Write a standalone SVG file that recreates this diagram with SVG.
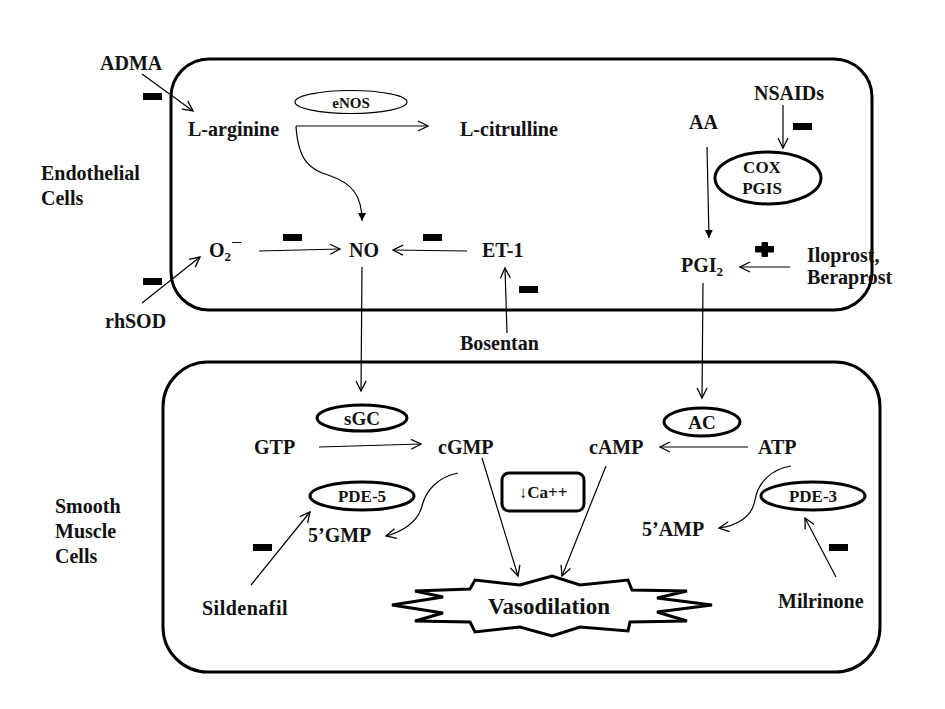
<svg xmlns="http://www.w3.org/2000/svg" width="945" height="709" viewBox="0 0 945 709" font-family="Liberation Serif, Times New Roman, serif" font-weight="bold">
<defs>
<style>
text{fill:#111;}
.t{font-size:20px;}
.s{font-size:17px;}
.m{text-anchor:middle;}
.cell{fill:none;stroke:#000;stroke-width:3;}
.enz{fill:#fff;stroke:#000;stroke-width:3;}
.c{fill:none;stroke:#000;stroke-width:1.2;}
.minus{fill:#000;}
</style>
<marker id="open" markerUnits="userSpaceOnUse" markerWidth="14" markerHeight="14" refX="11" refY="6" orient="auto">
<path d="M1,1 L11,6 L1,11" fill="none" stroke="#000" stroke-width="1.3"/>
</marker>
<marker id="fill" markerUnits="userSpaceOnUse" markerWidth="10" markerHeight="10" refX="8" refY="4" orient="auto">
<path d="M0,0 L8,4 L0,8 Z" fill="#000"/>
</marker>
</defs>
<rect width="945" height="709" fill="#fff"/>

<g id="endothelial-cell">
<rect class="cell" x="171" y="59" width="701" height="251" rx="38"/>
<text class="t" x="41" y="180">Endothelial</text>
<text class="t" x="41" y="205">Cells</text>
</g>
<g id="smooth-muscle-cell">
<rect class="cell" x="163" y="362" width="717" height="310" rx="45"/>
<text class="t" x="55" y="513">Smooth</text>
<text class="t" x="55" y="538">Muscle</text>
<text class="t" x="55" y="563">Cells</text>
</g>

<g id="connectors">
<line class="c" x1="142" y1="74" x2="193" y2="111" marker-end="url(#open)"/>
<line class="c" x1="296" y1="126" x2="428" y2="126" marker-end="url(#open)"/>
<path class="c" d="M296,126 C298,160 310,170 328,175 C352,183 362,195 362,221" marker-end="url(#fill)"/>
<line class="c" x1="259" y1="251" x2="340" y2="249" marker-end="url(#open)"/>
<line class="c" x1="467" y1="251" x2="393" y2="250" marker-end="url(#open)"/>
<line class="c" x1="507" y1="333" x2="505" y2="268" marker-end="url(#open)"/>
<line class="c" x1="142" y1="303" x2="200" y2="257" marker-end="url(#open)"/>
<line class="c" x1="783" y1="105" x2="783" y2="148" marker-end="url(#open)"/>
<line class="c" x1="707" y1="147" x2="709" y2="238" marker-end="url(#fill)"/>
<line class="c" x1="790" y1="267" x2="740" y2="267" marker-end="url(#open)"/>
<line class="c" x1="362" y1="267" x2="361" y2="391" marker-end="url(#open)"/>
<line class="c" x1="703" y1="283" x2="702" y2="398" marker-end="url(#open)"/>
<line class="c" x1="319" y1="447" x2="421" y2="444" marker-end="url(#open)"/>
<line class="c" x1="482" y1="458" x2="518" y2="576" marker-end="url(#open)"/>
<path class="c" d="M458,473 C438,477 426,490 422,506 C418,522 402,532 386,536" marker-end="url(#open)"/>
<line class="c" x1="251" y1="585" x2="310" y2="512" marker-end="url(#open)"/>
<line class="c" x1="606" y1="466" x2="562" y2="576" marker-end="url(#open)"/>
<line class="c" x1="748" y1="447" x2="660" y2="447" marker-end="url(#open)"/>
<path class="c" d="M791,466 C772,469 758,482 755,500 C752,518 735,526 719,528" marker-end="url(#open)"/>
<line class="c" x1="836" y1="577" x2="805" y2="518" marker-end="url(#open)"/>
</g>

<g id="inhibition-marks">
<rect class="minus" x="143" y="93" width="19" height="7"/>
<rect class="minus" x="283" y="234" width="19" height="7"/>
<rect class="minus" x="423" y="234" width="19" height="7"/>
<rect class="minus" x="519" y="286" width="19" height="7"/>
<rect class="minus" x="143" y="278" width="19" height="7"/>
<rect class="minus" x="793" y="123" width="19" height="7"/>
<rect class="minus" x="253" y="544" width="19" height="7"/>
<rect class="minus" x="829" y="544" width="19" height="7"/>
</g>
<g id="stimulation-mark">
<rect class="minus" x="755" y="246" width="19" height="6.5" rx="1"/>
<rect class="minus" x="761.5" y="242" width="6.5" height="15" rx="1"/>
</g>

<g id="ADMA"><text class="t" x="100" y="70">ADMA</text></g>
<g id="L-arginine"><text class="t" x="188" y="136">L-arginine</text></g>
<g id="eNOS"><ellipse cx="351" cy="102" rx="56" ry="11.5" fill="#fff" stroke="#000" stroke-width="1.2"/><text class="s m" x="351" y="108" style="font-size:15px">eNOS</text></g>
<g id="L-citrulline"><text class="t" x="460" y="136">L-citrulline</text></g>
<g id="O2"><text class="t" x="209" y="257">O<tspan font-size="13" dy="4">2</tspan><tspan dy="-12" font-weight="normal">−</tspan></text></g>
<g id="NO"><text class="t" x="349" y="257">NO</text></g>
<g id="ET-1"><text class="t" x="482" y="257">ET-1</text></g>
<g id="Bosentan"><text class="t" x="460" y="350">Bosentan</text></g>
<g id="rhSOD"><text class="t" x="105" y="328">rhSOD</text></g>
<g id="NSAIDs"><text class="t" x="754" y="100">NSAIDs</text></g>
<g id="AA"><text class="t" x="689" y="129">AA</text></g>
<g id="COX-PGIS"><ellipse class="enz" cx="768" cy="178" rx="53" ry="26"/><text class="s m" x="762" y="173">COX</text><text class="s m" x="762" y="194">PGIS</text></g>
<g id="PGI2"><text class="t" x="681" y="272">PGI<tspan font-size="13" dy="4">2</tspan></text></g>
<g id="Iloprost-Beraprost"><text class="t" x="807" y="262">Iloprost,</text><text class="t" x="807" y="284">Beraprost</text></g>

<g id="sGC"><ellipse class="enz" cx="362" cy="418" rx="45" ry="13"/><text class="s m" x="362" y="425" style="font-size:19px">sGC</text></g>
<g id="GTP"><text class="t" x="254" y="454">GTP</text></g>
<g id="cGMP"><text class="t" x="438" y="454">cGMP</text></g>
<g id="PDE-5"><ellipse class="enz" cx="362" cy="496" rx="52" ry="14"/><text class="s m" x="362" y="502">PDE-5</text></g>
<g id="5GMP"><text class="t" x="308" y="542">5’GMP</text></g>
<g id="Sildenafil"><text class="t" x="202" y="615" letter-spacing="0.5">Sildenafil</text></g>
<g id="Ca"><rect x="502" y="473" width="82" height="38" rx="7" fill="#fff" stroke="#000" stroke-width="3"/><text class="s m" x="543" y="498"><tspan font-weight="normal">↓</tspan>Ca++</text></g>
<g id="cAMP"><text class="t" x="589" y="454">cAMP</text></g>
<g id="AC"><ellipse class="enz" cx="702" cy="422" rx="38" ry="14"/><text class="s m" x="702" y="429" style="font-size:19px">AC</text></g>
<g id="ATP"><text class="t" x="758" y="454">ATP</text></g>
<g id="5AMP"><text class="t" x="642" y="536">5’AMP</text></g>
<g id="PDE-3"><ellipse class="enz" cx="813" cy="496" rx="52" ry="14"/><text class="s m" x="813" y="502">PDE-3</text></g>
<g id="Milrinone"><text class="t" x="778" y="608">Milrinone</text></g>
<g id="Vasodilation">
<polygon points="392,605 443,597 415,591 470,589 475,580 520,585 552,576 580,585 628,580 632,590 687,591 657,598 712,605 657,612 687,621 630,622 628,631 580,627 552,636 520,627 475,632 470,622 415,621 443,613" fill="#fff" stroke="#000" stroke-width="3" stroke-linejoin="miter"/>
<text class="m" x="549" y="614" style="font-size:23px">Vasodilation</text>
</g>
</svg>
